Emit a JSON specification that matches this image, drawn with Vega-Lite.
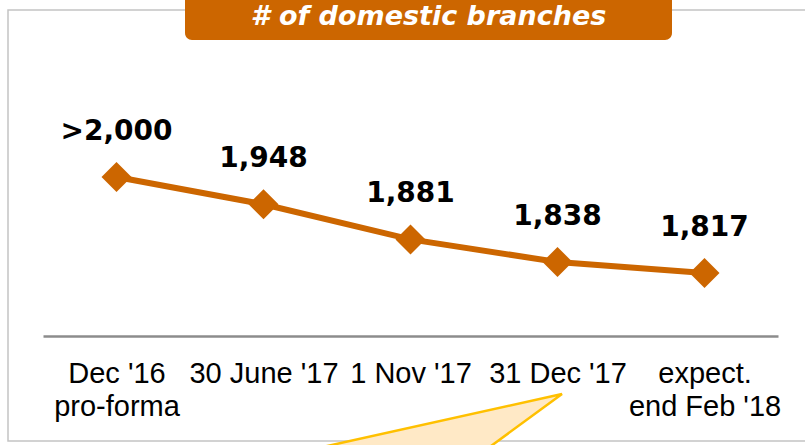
{
  "$schema": "https://vega.github.io/schema/vega-lite/v6.json",
  "autosize": {"type": "none"},
  "padding": {"left": 8, "top": 10, "right": 0, "bottom": 4},
  "width": 841,
  "height": 431,
  "background": "white",
  "view": {"stroke": "#c4c4c4", "strokeWidth": 1.5},
  "config": {"font": "Liberation Sans"},
  "layer": [
    {
      "data": {
        "values": [
          {"date": "Dec '16\npro-forma", "branches": 2000, "label": ">2,000"},
          {"date": "30 June '17", "branches": 1948, "label": "1,948"},
          {"date": "1 Nov '17", "branches": 1881, "label": "1,881"},
          {"date": "31 Dec '17", "branches": 1838, "label": "1,838"},
          {"date": "expect.\nend Feb '18", "branches": 1817, "label": "1,817"}
        ]
      },
      "encoding": {
        "x": {
          "field": "date",
          "type": "nominal",
          "sort": null,
          "scale": {"type": "point", "range": [35, 770], "padding": 0.5},
          "axis": {
            "title": null,
            "orient": "bottom",
            "offset": -105,
            "domainColor": "#8c8c8c",
            "domainWidth": 2.5,
            "ticks": false,
            "tickSize": 0,
            "labelPadding": 23,
            "labelFontSize": 29,
            "labelFont": "Liberation Sans",
            "labelColor": "#000000",
            "labelAngle": 0,
            "labelOverlap": false,
            "labelLimit": 0,
            "labelLineHeight": 33,
            "labelExpr": "split(datum.label, '\\n')",
            "grid": false
          }
        },
        "y": {
          "field": "branches",
          "type": "quantitative",
          "scale": {"domain": [1497, 2318], "nice": false, "zero": false},
          "axis": null
        }
      },
      "layer": [
        {
          "mark": {"type": "line", "color": "#CC6600", "strokeWidth": 6}
        },
        {
          "mark": {"type": "point", "shape": "diamond", "filled": true, "size": 900, "color": "#CC6600", "opacity": 1}
        },
        {
          "mark": {"type": "text", "fontSize": 28, "fontWeight": "bold", "font": "DejaVu Sans", "color": "#000000", "baseline": "alphabetic", "dy": -37},
          "encoding": {"text": {"field": "label"}}
        },
        {
          "transform": [{"filter": {"field": "date", "equal": "31 Dec '17"}}],
          "mark": {
            "type": "point",
            "filled": true,
            "shape": "M4.5,132L-329.5,206L-96.5,206Z",
            "size": 4,
            "fill": "#FFE9C6",
            "stroke": "#FFC000",
            "strokeWidth": 2.5,
            "opacity": 1,
            "fillOpacity": 1,
            "strokeOpacity": 1
          }
        }
      ]
    },
    {
      "data": {"values": [{"title": "# of domestic branches"}]},
      "encoding": {
        "x": {
          "field": "title",
          "type": "nominal",
          "scale": {"type": "band", "range": [177, 664], "paddingInner": 0, "paddingOuter": 0},
          "axis": null
        },
        "y": {
          "field": "title",
          "type": "nominal",
          "scale": {"type": "band", "range": [-20, 30], "paddingInner": 0, "paddingOuter": 0},
          "axis": null
        }
      },
      "layer": [
        {
          "mark": {"type": "rect", "color": "#CC6600", "cornerRadius": 7, "opacity": 1}
        },
        {
          "mark": {"type": "text", "color": "white", "fontSize": 27, "fontWeight": "bold", "fontStyle": "italic", "font": "DejaVu Sans", "baseline": "alphabetic", "dy": 10},
          "encoding": {"text": {"field": "title"}}
        }
      ]
    }
  ],
  "resolve": {"scale": {"x": "independent", "y": "independent"}}
}
